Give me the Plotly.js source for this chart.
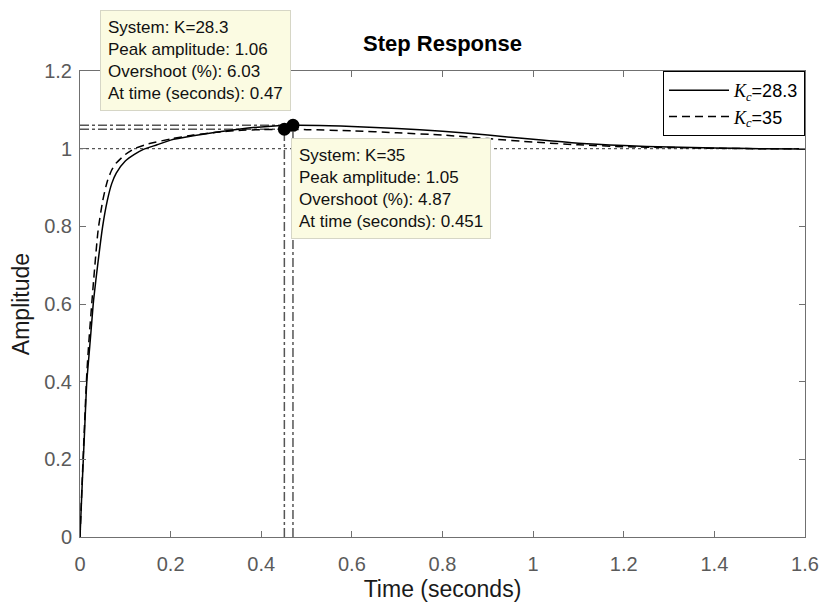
<!DOCTYPE html>
<html>
<head>
<meta charset="utf-8">
<script src="https://cdn.plot.ly/plotly-3.0.1.min.js"></script>
<style>html,body{margin:0;padding:0;background:#fff;}#chart{width:821px;height:605px;}</style>
</head>
<body>
<div id="chart"></div>
<script>
// ---- data ----
const timeK283 = [0, 0.005, 0.01, 0.015, 0.02, 0.025, 0.03, 0.04, 0.05, 0.06, 0.07, 0.08, 0.1, 0.12, 0.14, 0.17, 0.2, 0.25, 0.3, 0.35, 0.4, 0.47, 0.55, 0.6, 0.7, 0.8, 0.9, 1.0, 1.1, 1.2, 1.3, 1.4, 1.5, 1.6];
const ampK283  = [0, 0.14, 0.27, 0.40, 0.47, 0.54, 0.61, 0.71, 0.80, 0.865, 0.91, 0.937, 0.968, 0.985, 0.998, 1.01, 1.022, 1.033, 1.042, 1.05, 1.056, 1.06, 1.059, 1.057, 1.052, 1.045, 1.035, 1.024, 1.014, 1.008, 1.004, 1.002, 1.0, 0.999];

const timeK35 = [0, 0.005, 0.01, 0.015, 0.02, 0.03, 0.04, 0.05, 0.06, 0.07, 0.08, 0.1, 0.12, 0.15, 0.2, 0.25, 0.3, 0.35, 0.4, 0.451, 0.5, 0.6, 0.7, 0.8, 0.9, 1.0, 1.1, 1.2, 1.3, 1.4, 1.5, 1.6];
const ampK35  = [0, 0.15, 0.29, 0.42, 0.51, 0.66, 0.79, 0.865, 0.915, 0.945, 0.963, 0.985, 1.0, 1.012, 1.025, 1.035, 1.042, 1.047, 1.049, 1.05, 1.049, 1.046, 1.041, 1.035, 1.026, 1.017, 1.01, 1.005, 1.003, 1.001, 1.0, 1.0];

const seriesNames = ['K=28.3', 'K=35'];
const legendLabels = ['=28.3', '=35'];
const peakTimes = [0.47, 0.451];
const peakAmps = [1.06, 1.05];
const overshoots = [6.03, 4.87];
const steadyState = 1;
const xRange = [0, 1.6];
const yRange = [0, 1.2];

// ---- build traces ----
const FONT = 'Liberation Sans, Arial, sans-serif';
const kc = '<span style="font-family:Liberation Serif, Times New Roman, serif"><i>K</i><sub><i>c</i></sub></span>';

const traces = [];
traces.push({x: xRange, y: [steadyState, steadyState], mode: 'lines', showlegend: false, hoverinfo: 'skip',
  line: {color: '#555', width: 1.2, dash: 'dot'}});
for (let i = 0; i < peakTimes.length; i++) {
  traces.push({x: [xRange[0], peakTimes[i]], y: [peakAmps[i], peakAmps[i]], mode: 'lines', showlegend: false, hoverinfo: 'skip',
    line: {color: '#555', width: 1.5, dash: 'dashdot'}});
  traces.push({x: [peakTimes[i], peakTimes[i]], y: [yRange[0], peakAmps[i]], mode: 'lines', showlegend: false, hoverinfo: 'skip',
    line: {color: '#555', width: 1.5, dash: 'dashdot'}});
}
traces.push({x: timeK283, y: ampK283, mode: 'lines', name: kc + legendLabels[0], line: {color: '#000', width: 1.5, shape: 'spline', smoothing: 0.6}});
traces.push({x: timeK35, y: ampK35, mode: 'lines', name: kc + legendLabels[1], line: {color: '#000', width: 1.5, dash: '8px,5px', shape: 'spline', smoothing: 0.6}});
traces.push({x: peakTimes, y: peakAmps, mode: 'markers', showlegend: false, hoverinfo: 'skip',
  marker: {color: '#000', size: 13}});

function tipText(i) {
  return 'System: ' + seriesNames[i] + '<br>Peak amplitude: ' + peakAmps[i].toFixed(2) +
    '<br>Overshoot (%): ' + overshoots[i].toFixed(2) + '<br>At time (seconds): ' + peakTimes[i];
}

const axisCommon = {
  showgrid: false, zeroline: false, showline: true, linecolor: '#707070', linewidth: 1,
  mirror: 'ticks', ticks: 'inside', ticklen: 6, tickcolor: '#707070',
  tickfont: {family: FONT, size: 20, color: '#5a5a5a'}, dtick: 0.2
};

const layout = {
  width: 821, height: 605,
  margin: {l: 80, r: 16, t: 71, b: 68},
  paper_bgcolor: '#fff', plot_bgcolor: '#fff',
  font: {family: FONT},
  title: {text: '<b>Step Response</b>', font: {family: FONT, size: 22, color: '#000'}, xref: 'paper', x: 0.5, xanchor: 'center', y: 0.928, yanchor: 'middle'},
  xaxis: Object.assign({}, axisCommon, {range: xRange, ticklabelstandoff: 9,
    title: {text: 'Time (seconds)', font: {family: FONT, size: 23, color: '#1a1a1a'}, standoff: 6}}),
  yaxis: Object.assign({}, axisCommon, {range: yRange, ticklabelstandoff: 3,
    title: {text: 'Amplitude', font: {family: FONT, size: 23, color: '#1a1a1a'}, standoff: 8}}),
  showlegend: true,
  legend: {x: 1, y: 1, xanchor: 'right', yanchor: 'top', bgcolor: '#fff', bordercolor: '#000', borderwidth: 1,
    font: {family: FONT, size: 18, color: '#000'}, itemwidth: 60, tracegroupgap: 0},
  annotations: [
    {xref: 'paper', yref: 'paper', x: (100 - 80) / 725, y: (537 - 10) / 466, xanchor: 'left', yanchor: 'top',
     text: tipText(0), showarrow: false, align: 'left', bgcolor: '#fbfbe2', bordercolor: '#d6d6c6', borderwidth: 1, borderpad: 7,
     font: {family: FONT, size: 17, color: '#111'}},
    {xref: 'paper', yref: 'paper', x: (291 - 80) / 725, y: (537 - 138) / 466, xanchor: 'left', yanchor: 'top',
     text: tipText(1), showarrow: false, align: 'left', bgcolor: '#fbfbe2', bordercolor: '#d6d6c6', borderwidth: 1, borderpad: 7,
     font: {family: FONT, size: 17, color: '#111'}}
  ]
};

Plotly.newPlot('chart', traces, layout, {staticPlot: true, displayModeBar: false});
</script>
</body>
</html>
